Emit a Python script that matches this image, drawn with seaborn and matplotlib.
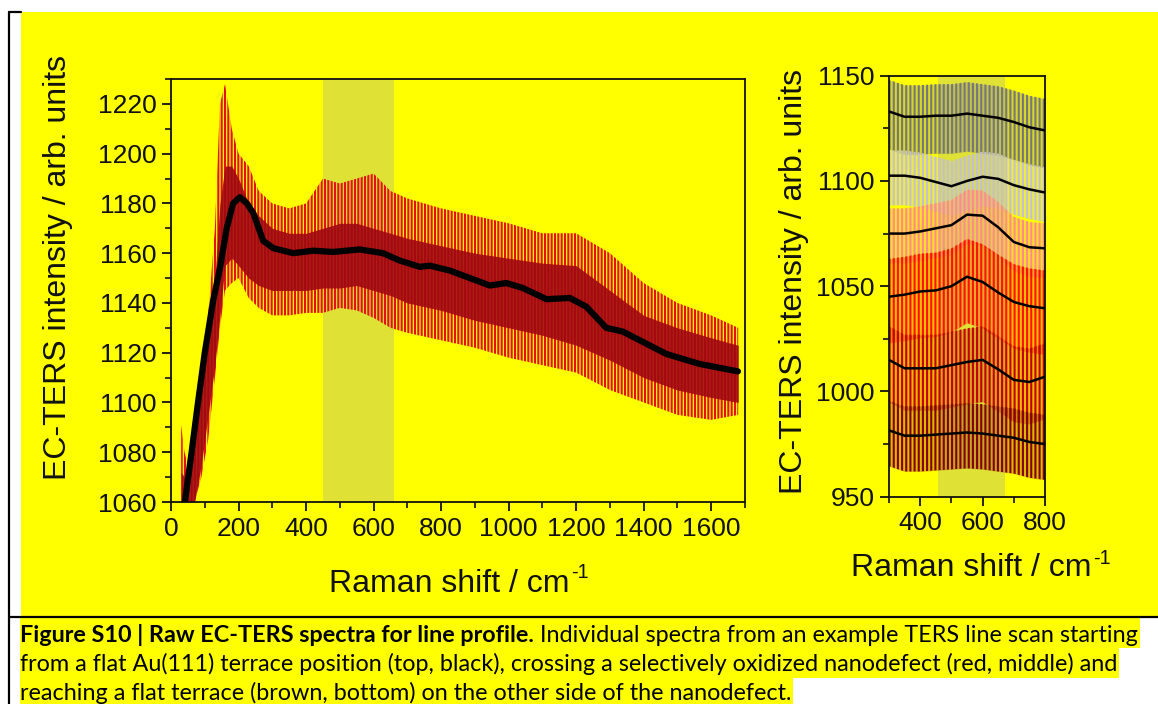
import matplotlib
matplotlib.use("Agg")
import numpy as np
import pandas as pd
import matplotlib.pyplot as plt
import seaborn as sns
from matplotlib.patches import Rectangle
from matplotlib.lines import Line2D
from matplotlib.ticker import MultipleLocator

# ---------------- data ----------------
# Left panel: smoothed spectrum (black)
main_x = [41, 61, 80, 100, 125, 145, 165, 184, 204, 225, 244, 273, 303, 362, 421, 480,
          559, 628, 678, 737, 766, 826, 944, 993, 1042, 1112, 1181, 1230, 1289, 1338,
          1388, 1467, 1565, 1679]
main_y = [1060, 1080, 1100, 1120, 1141, 1154, 1170, 1180, 1182.5, 1180, 1176, 1165, 1162,
          1160, 1161, 1160.5, 1161.5, 1160, 1157, 1154.5, 1155, 1153, 1147, 1148, 1146,
          1141.5, 1142, 1138.5, 1130, 1128.5, 1125, 1119.5, 1115.5, 1112.5]

# Left panel: spread of the raw (noisy) spectra
env_x = [30, 40, 50, 70, 90, 110, 130, 145, 160, 180, 200, 230, 260, 300, 350, 400, 450,
         500, 550, 600, 650, 700, 800, 900, 1000, 1100, 1200, 1300, 1400, 1500, 1600, 1680]
core_hi = [1072, 1070, 1072, 1088, 1108, 1128, 1150, 1180, 1195, 1195, 1190, 1180, 1175,
           1170, 1168, 1168, 1170, 1172, 1172, 1170, 1168, 1166, 1163, 1160, 1158, 1156,
           1155, 1145, 1135, 1130, 1126, 1123]
core_lo = [1060, 1060, 1060, 1060, 1075, 1095, 1115, 1135, 1155, 1158, 1155, 1150, 1147,
           1145, 1145, 1145, 1146, 1146, 1147, 1145, 1143, 1140, 1137, 1133, 1130, 1127,
           1123, 1117, 1110, 1105, 1102, 1100]
spike_hi = [1091, 1080, 1075, 1092, 1112, 1135, 1170, 1220, 1228, 1210, 1200, 1195, 1185,
            1180, 1178, 1180, 1190, 1188, 1190, 1192, 1185, 1182, 1178, 1175, 1172, 1168,
            1168, 1160, 1148, 1140, 1135, 1130]
spike_lo = [1060, 1060, 1060, 1060, 1070, 1085, 1110, 1130, 1145, 1148, 1150, 1142, 1138,
            1135, 1135, 1136, 1136, 1138, 1137, 1134, 1130, 1128, 1125, 1122, 1118, 1115,
            1112, 1105, 1100, 1095, 1093, 1095]

# Right panel: six spectra along the line scan (smoothed)
scan_x = [300, 350, 400, 450, 500, 550, 600, 650, 700, 750, 800]
trace1 = [1133, 1130.5, 1130.5, 1131, 1131, 1132, 1131, 1130, 1128, 1125.5, 1124]
trace2 = [1102.5, 1102.5, 1101.5, 1099.5, 1097.5, 1100, 1102, 1101, 1098, 1096, 1094.5]
trace3 = [1075, 1075, 1076, 1077.5, 1079, 1084, 1083.5, 1078, 1071, 1068.5, 1068]
trace4 = [1045, 1046, 1047.5, 1048, 1050, 1054.5, 1052, 1047, 1042.5, 1040.5, 1039.5]
trace5 = [1015, 1011, 1011, 1011, 1012.5, 1014, 1015, 1010.5, 1005.5, 1004.5, 1007]
trace6 = [981.5, 979, 979, 979.5, 980, 980.5, 980, 979, 978, 976, 975]
# noise spread of each raw trace (above / below its smoothed curve)
spread_up = [15, 12, 12, 18, 16, 14]
spread_dn = [18, 14, 14, 22, 20, 17]
trace_colors = ['#76767e', '#c4c0d4', '#ff8c8c', '#ff1208', '#c40000', '#850000']

left_xticks = [0, 200, 400, 600, 800, 1000, 1200, 1400, 1600]
left_yticks = [1060, 1080, 1100, 1120, 1140, 1160, 1180, 1200, 1220]
right_xticks = [400, 600, 800]
right_yticks = [950, 1000, 1050, 1100, 1150]
shade_left = (450, 660)
shade_right = (457, 672)

caption_bold = "Figure S10 | Raw EC-TERS spectra for line profile."
caption_l1 = "Individual spectra from an example TERS line scan starting"
caption_l2 = ("from a flat Au(111) terrace position (top, black), crossing a selectively "
              "oxidized nanodefect (red, middle) and")
caption_l3 = "reaching a flat terrace (brown, bottom) on the other side of the nanodefect."

# ---------------- styling ----------------
sns.set_theme(style="ticks")
AXFONT = ['Liberation Sans', 'DejaVu Sans']
plt.rcParams['font.family'] = AXFONT
plt.rcParams['mathtext.default'] = 'regular'
plt.rcParams['hatch.linewidth'] = 1.5

W, H = 1158, 704
fig = plt.figure(figsize=(W / 100, H / 100), dpi=100)
fig.patch.set_facecolor('white')


def fx(px):
    return px / W


def fy(py):
    return 1 - py / H


YEL = '#ffff00'
SHADE = '#dfe234'
# yellow figure panel
fig.patches.append(Rectangle((fx(20.7), fy(616)), fx(1158) - fx(20.7), fy(11.7) - fy(616),
                             transform=fig.transFigure, facecolor=YEL, edgecolor='none',
                             zorder=-10))
# table frame lines
for (xa, ya, xb, yb) in [(8.5, 11.7, 8.5, 704), (8.5, 12.2, 20.7, 12.2), (8.5, 617, 1158, 617)]:
    fig.add_artist(Line2D([fx(xa), fx(xb)], [fy(ya), fy(yb)], transform=fig.transFigure,
                          color='black', lw=1.6, zorder=3))

SPINE = '#111111'


def style_axes(ax):
    ax.set_facecolor(YEL)
    ax.set_zorder(1)
    for s in ax.spines.values():
        s.set_visible(True)
        s.set_linewidth(1.3)
        s.set_color(SPINE)
    ax.tick_params(which='major', direction='out', length=6.5, width=1.3, labelsize=19,
                   pad=4, color=SPINE, labelcolor='#111111')
    ax.tick_params(which='minor', direction='out', length=4, width=1.2, color=SPINE)
    ax.tick_params(top=False, right=False, which='both')
    ax.grid(False)


def fix_tick_font(ax):
    for lab in ax.get_xticklabels() + ax.get_yticklabels():
        lab.set_fontfamily(AXFONT)


# ---------------- left panel ----------------
ax1 = fig.add_axes([fx(171), fy(502), (745 - 171) / W, (502 - 79) / H])
style_axes(ax1)
ax1.axvspan(*shade_left, color=SHADE, lw=0, zorder=0.5)
ax1.fill_between(env_x, spike_lo, spike_hi, facecolor='none', edgecolor='#e4101a',
                 hatch='|||||', lw=0, zorder=1)
ax1.fill_between(env_x, core_lo, core_hi, color='#a00812', alpha=0.9, lw=0, zorder=1.2)
sns.lineplot(x=main_x, y=main_y, ax=ax1, color='black', lw=4.5, sort=False,
             estimator=None, zorder=3)
ax1.set_xlim(0, 1700)
ax1.set_ylim(1060, 1230)
ax1.set_xticks(left_xticks)
ax1.set_yticks(left_yticks)
ax1.xaxis.set_minor_locator(MultipleLocator(100))
ax1.yaxis.set_minor_locator(MultipleLocator(10))
ax1.set_xlabel('')
ax1.set_ylabel('')
fix_tick_font(ax1)

# ---------------- right panel ----------------
ax2 = fig.add_axes([fx(889), fy(496.7), (1045 - 889) / W, (496.7 - 75.7) / H])
style_axes(ax2)
ax2.axvspan(*shade_right, color=SHADE, lw=0, zorder=0.5)
traces = [trace1, trace2, trace3, trace4, trace5, trace6]
rows = []
for i, tr in enumerate(traces):
    lo = [v - spread_dn[i] for v in tr]
    hi = [v + spread_up[i] for v in tr]
    ax2.fill_between(scan_x, lo, hi, color=trace_colors[i], alpha=0.28, lw=0,
                     zorder=1 + i * 0.01)
    ax2.fill_between(scan_x, lo, hi, facecolor='none', edgecolor=trace_colors[i],
                     hatch='||||', lw=0, zorder=1.005 + i * 0.01)
    for xv, yv in zip(scan_x, tr):
        rows.append({'shift': xv, 'intensity': yv, 'trace': i})
df = pd.DataFrame(rows)
sns.lineplot(data=df, x='shift', y='intensity', units='trace', estimator=None, ax=ax2,
             color='black', lw=1.8, zorder=3)
ax2.set_xlim(300, 800)
ax2.set_ylim(950, 1150)
ax2.set_xticks(right_xticks)
ax2.set_yticks(right_yticks)
ax2.xaxis.set_minor_locator(MultipleLocator(100))
ax2.yaxis.set_minor_locator(MultipleLocator(25))
ax2.set_xlabel('')
ax2.set_ylabel('')
fix_tick_font(ax2)

# ---------------- axis labels ----------------
renderer = fig.canvas.get_renderer()
LAB = 23
fig.text(fx(58), fy(268), 'EC-TERS intensity / arb. units', rotation=90, ha='center',
         va='center', fontsize=LAB, color='#111111', family=AXFONT)
fig.text(fx(794), fy(281), 'EC-TERS intensity / arb. units', rotation=90, ha='center',
         va='center', fontsize=LAB, color='#111111', family=AXFONT)


def xlabel(cx, base):
    main = 'Raman shift / cm'
    sup = '-1'
    t1 = fig.text(0, 0, main, fontsize=LAB, family=AXFONT)
    w1 = t1.get_window_extent(renderer).width
    t1.remove()
    t2 = fig.text(0, 0, sup, fontsize=LAB * 0.62, family=AXFONT)
    w2 = t2.get_window_extent(renderer).width
    t2.remove()
    left = cx - (w1 + w2 + 1) / 2
    fig.text(fx(left), fy(base), main, ha='left', va='baseline', fontsize=LAB,
             color='#111111', family=AXFONT)
    fig.text(fx(left + w1 + 1), fy(base - 13), sup, ha='left', va='baseline',
             fontsize=LAB * 0.62, color='#111111', family=AXFONT)


xlabel(459, 591.5)
xlabel(981, 576.5)

# ---------------- caption ----------------


def text_width(s, size, weight='normal'):
    t = fig.text(0, 0, s, fontsize=size, fontweight=weight, family='Lato')
    w = t.get_window_extent(renderer).width
    t.remove()
    return w


ref_size = 14.0
cap_size = ref_size * (1122 - 20) / text_width(caption_l2, ref_size)
space_w = text_width('x x', cap_size) - text_width('xx', cap_size)

x0 = 20
w_bold = text_width(caption_bold, cap_size, 'bold')
w_l1 = text_width(caption_l1, cap_size)
w_l2 = text_width(caption_l2, cap_size)
w_l3 = text_width(caption_l3, cap_size)
line_specs = [(618, 648, w_bold + space_w + w_l1), (648, 678, w_l2), (678, 704, w_l3)]
for top, bot, w in line_specs:
    fig.patches.append(Rectangle((fx(x0), fy(bot)), (w + 2) / W, (bot - top) / H,
                                 transform=fig.transFigure, facecolor=YEL,
                                 edgecolor='none', zorder=-10))

fig.text(fx(x0), fy(642), caption_bold, fontsize=cap_size, fontweight='bold', family='Lato',
         va='baseline', ha='left', color='black')
fig.text(fx(x0 + w_bold + space_w), fy(642), caption_l1, fontsize=cap_size, family='Lato',
         va='baseline', ha='left', color='black')
fig.text(fx(x0), fy(671), caption_l2, fontsize=cap_size, family='Lato', va='baseline',
         ha='left', color='black')
fig.text(fx(x0), fy(700), caption_l3, fontsize=cap_size, family='Lato', va='baseline',
         ha='left', color='black')

fig.savefig('out.png', dpi=100, facecolor='white')
